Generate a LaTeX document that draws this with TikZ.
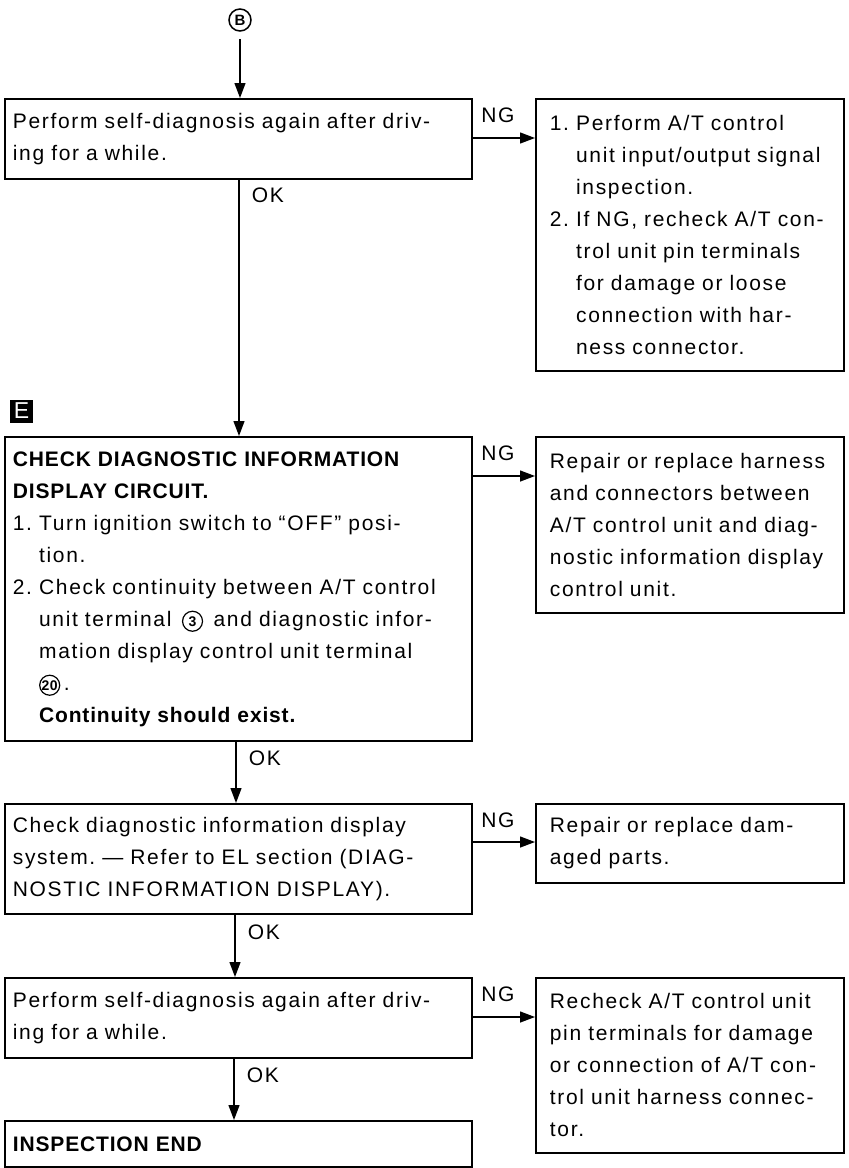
\documentclass[tikz,border=0pt]{standalone}
\usepackage{fontspec}
\setmainfont{Liberation Sans}[LetterSpace=8, BoldFeatures={LetterSpace=4}]
\usetikzlibrary{arrows.meta}
\frenchspacing
\hyphenpenalty=10000
\newcommand\myind{\hphantom{1.\ }}
\newcommand\circnum[1]{\tikz[baseline=(cn#1.base)] \node[draw, circle, line width=1.2pt, inner sep=0pt, minimum size=20pt, font=\bfseries\fontsize{14}{14}\selectfont] (cn#1) {#1};}
\begin{document}
\begin{tikzpicture}[x=1pt,y=-1pt,
  every node/.style={font=\fontsize{21}{32}\selectfont},
  lbox/.style={draw, line width=1.8pt, anchor=north west, align=left, inner xsep=8pt, inner ysep=0pt, text width=451pt},
  rbox/.style={draw, line width=1.8pt, anchor=north west, align=left, inner xsep=14pt, inner ysep=0pt, text width=280pt},
  conn/.style={line width=1.3pt, -{Triangle[length=15pt,width=11pt]}},
  lab/.style={inner sep=0pt}]
\useasboundingbox (0,0) rectangle (849,1168);
% start marker
\node[draw, circle, line width=1.5pt, minimum size=22pt, inner sep=0pt, font=\bfseries\fontsize{15}{15}\selectfont] (B) at (240,20) {B};
% E marker
\node[fill=black, text=white, minimum size=23pt, inner sep=0pt, font=\fontsize{23}{23}\selectfont] (E) at (21.5,411) {E};
% boxes
\node[lbox, minimum height=80pt] (b1) at (4,98) {Perform self-diagnosis again after driv-\\ing for a while.};
\node[rbox, minimum height=272pt] (r1) at (535,98) {1. Perform A/T control\\
\myind unit input/output signal\\
\myind inspection.\\
2. If NG, recheck A/T con-\\
\myind trol unit pin terminals\\
\myind for damage or loose\\
\myind connection with har-\\
\myind ness connector.};
\node[lbox, minimum height=304pt] (b2) at (4,436) {\textbf{CHECK DIAGNOSTIC INFORMATION}\\
\textbf{DISPLAY CIRCUIT.}\\
1. Turn ignition switch to “OFF” posi-\\
\myind tion.\\
2. Check continuity between A/T control\\
\myind unit terminal \,\circnum{3}\, and diagnostic infor-\\
\myind mation display control unit terminal\\
\myind\circnum{20}\,.\\
\myind\textbf{Continuity should exist.}};
\node[rbox, minimum height=176pt] (r2) at (535,436) {Repair or replace harness\\
and connectors between\\
A/T control unit and diag-\\
nostic information display\\
control unit.};
\node[lbox, minimum height=110pt] (b3) at (4,803) {Check diagnostic information display\\
system. — Refer to EL section (DIAG-\\
NOSTIC INFORMATION DISPLAY).};
\node[rbox, minimum height=79pt] (r3) at (535,803) {Repair or replace dam-\\aged parts.};
\node[lbox, minimum height=80pt] (b4) at (4,977) {Perform self-diagnosis again after driv-\\ing for a while.};
\node[rbox, minimum height=175pt] (r4) at (535,977) {Recheck A/T control unit\\
pin terminals for damage\\
or connection of A/T con-\\
trol unit harness connec-\\
tor.};
\node[lbox, minimum height=46pt] (b5) at (4,1120) {\textbf{INSPECTION END}};
% vertical connectors
\coordinate (c0) at (240,0);
\coordinate (c1) at (239,0);
\coordinate (c2) at (236,0);
\coordinate (c3) at (235,0);
\coordinate (c4) at (234,0);
\draw[conn, shorten <=7pt] (B) -- (b1.north -| c0);
\draw[conn] (b1.south -| c1) -- (b2.north -| c1);
\draw[conn] (b2.south -| c2) -- (b3.north -| c2);
\draw[conn] (b3.south -| c3) -- (b4.north -| c3);
\draw[conn] (b4.south -| c4) -- (b5.north -| c4);
% horizontal connectors
\coordinate (h1) at (0,138);
\coordinate (h2) at (0,476);
\coordinate (h3) at (0,842);
\coordinate (h4) at (0,1017);
\draw[conn] (b1.east |- h1) -- (r1.west |- h1);
\draw[conn] (b2.east |- h2) -- (r2.west |- h2);
\draw[conn] (b3.east |- h3) -- (r3.west |- h3);
\draw[conn] (b4.east |- h4) -- (r4.west |- h4);
% labels
\node[lab] (ng1) at (498,115) {NG};
\node[lab] (ng2) at (498,453) {NG};
\node[lab] (ng3) at (498,820) {NG};
\node[lab] (ng4) at (498,994) {NG};
\node[lab] (ok1) at (268,195) {OK};
\node[lab] (ok2) at (265,758) {OK};
\node[lab] (ok3) at (264,932) {OK};
\node[lab] (ok4) at (263,1075) {OK};
\end{tikzpicture}
\end{document}
